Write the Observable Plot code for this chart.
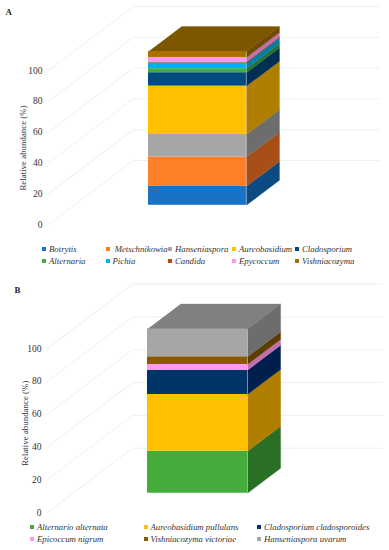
<!DOCTYPE html>
<html>
<head>
<meta charset="utf-8">
<script src="https://cdn.jsdelivr.net/npm/d3@7"></script>
<script src="https://cdn.jsdelivr.net/npm/@observablehq/plot@0.6"></script>
<style>
html,body{margin:0;padding:0;background:#fff;width:389px;height:550px;overflow:hidden}
svg{display:block}
.legend{position:relative;font:italic 8.75px "Liberation Serif",serif;color:#333}
.item{position:absolute;white-space:pre;line-height:10px;height:10px}
.sw{position:absolute;width:4px;height:4px;top:3px;left:0}
</style>
</head>
<body>
<div id="root"></div>
<script>
const ticks = [0, 20, 40, 60, 80, 100];

// Panel A
const namesA = ["Botrytis", " Metschnikowia", "Hanseniaspora", "Aureobasidium", "Cladosporium", "Alternaria", "Pichia", "Candida", "Epycoccum", "Vishniacozyma"];
const valuesA = [12.3, 19.0, 14.7, 31.4, 8.7, 2.6, 3.7, 0.6, 3.0, 3.9];
const frontA = ["#1872c8", "#ff7f27", "#a6a6a6", "#ffc000", "#004b7d", "#43ac3a", "#00b0f0", "#b94a12", "#ff99ee", "#a87000"];
const sideA = ["#0c4a84", "#a84f17", "#6d6d6d", "#b17f00", "#002f55", "#2b6f24", "#007ea8", "#7c3310", "#c070b0", "#6f4a00"];
const topA = "#7d5600";

// Panel B
const namesB = ["Alternario alternata", "Aureobasidium pullulans", "Cladosporium cladosporoides", "Epicoccum nigrum", "Vishniacozyma victoriae", "Hanseniaspora uvarum"];
const valuesB = [25.6, 34.6, 14.8, 3.5, 4.7, 16.9];
const frontB = ["#43ac3a", "#ffc000", "#003366", "#ff99ee", "#8b5a00", "#a6a6a6"];
const sideB = ["#2b6f24", "#b17f00", "#001f4d", "#c070b0", "#5c3c00", "#6d6d6d"];
const topB = "#808080";

function panel(o) {
  const {values, front, side, top, letter} = o;
  const [dx, dy] = o.depth;
  const [d0, d1] = o.barDepth;
  const [b0, b1] = o.barX;
  const at = (x, y, d) => ({x: x + d * dx, y: y + d * dy});

  // gridlines: floor-diagonal then along the back wall
  const grid = ticks.flatMap(t => [
    {...at(0, t, 0), t}, {...at(0, t, 1), t}, {...at(100, t, 1), t}
  ]);

  // stack
  let sum = 0;
  const rows = values.map((v, i) => {
    const r = {y1: sum + d0 * dy, y2: sum + v + d0 * dy, base: sum, end: sum + v, front: front[i], side: side[i], i};
    sum += v;
    return r;
  });

  const sidePoly = rows.flatMap(r => [
    {...at(b1, r.base, d0), p: r.i, c: r.side},
    {...at(b1, r.base, d1), p: r.i, c: r.side},
    {...at(b1, r.end, d1), p: r.i, c: r.side},
    {...at(b1, r.end, d0), p: r.i, c: r.side}
  ]);
  const topPoly = [at(b0, sum, d0), at(b1, sum, d0), at(b1, sum, d1), at(b0, sum, d1)];

  return Plot.plot({
    width: 389,
    height: o.height,
    marginLeft: o.xRange[0],
    marginTop: 0, marginBottom: 0, marginRight: 0,
    style: {fontFamily: '"Liberation Serif",serif', fontSize: "9.3px", color: "#333", background: "transparent"},
    x: {domain: [0, 100], range: o.xRange, axis: null},
    y: {domain: [0, 100], range: o.yRange, axis: null},
    color: {type: "identity"},
    marks: [
      Plot.line(grid, {x: "x", y: "y", z: "t", stroke: "#efefef", strokeWidth: 1}),
      Plot.line(topPoly, {x: "x", y: "y", fill: top, stroke: top, strokeWidth: 0.3}),
      Plot.line(sidePoly, {x: "x", y: "y", z: "p", fill: "c", stroke: "c", strokeWidth: 0.3}),
      Plot.rect(rows, {x1: b0 + d0 * dx, x2: b1 + d0 * dx, y1: "y1", y2: "y2", fill: "front", inset: 0}),
      Plot.axisY({anchor: "left", ticks, tickSize: 0, tickPadding: 6, label: null, fontSize: 9.5}),
      Plot.text(["Relative abundance (%)"], {x: o.titleAt[0], y: o.titleAt[1], rotate: -90, fontSize: 8.9}),
      Plot.text([letter], {frameAnchor: "top-left", dx: o.letterAt[0] - o.xRange[0], dy: o.letterAt[1], textAnchor: "start", lineAnchor: "top", fontWeight: "bold", fontSize: 8.8, fill: "#222"})
    ]
  });
}

const swatchGap = 7;
function legend(names, colors, cols, rowsY, height) {
  const el = document.createElement("div");
  el.className = "legend";
  el.style.height = height + "px";
  const perRow = cols.length;
  names.forEach((n, i) => {
    const item = document.createElement("div");
    item.className = "item";
    item.style.left = cols[i % perRow] + "px";
    item.style.top = (rowsY[Math.floor(i / perRow)] - 5) + "px";
    const sw = document.createElement("span");
    sw.className = "sw";
    sw.style.background = colors[i];
    const t = document.createElement("span");
    t.style.marginLeft = swatchGap + "px";
    t.textContent = n;
    item.append(sw, t);
    el.append(item);
  });
  return el;
}

const root = document.getElementById("root");
root.append(panel({
  values: valuesA, front: frontA, side: sideA, top: topA, letter: "A", height: 240,
  xRange: [48, 294], yRange: [224, 70],
  depth: [34.5, 41.56], barDepth: [0.3, 0.69], barX: [30.3, 70.1],
  titleAt: [-10.3, 49.7], letterAt: [5, 8]
}));
root.append(legend(namesA, frontA, [42, 105.5, 168, 232, 295], [8.7, 21], 35));
root.append(panel({
  values: valuesB, front: frontB, side: sideB, top: topB, letter: "B", height: 245,
  xRange: [47, 297], yRange: [237, 73],
  depth: [34, 39.2], barDepth: [0.3, 0.69], barX: [29.8, 69.8],
  titleAt: [-8.8, 54.4], letterAt: [14, 11]
}));
root.append(legend(namesB, frontB, [30, 143.5, 257], [7, 19.3], 30));
</script>
</body>
</html>
